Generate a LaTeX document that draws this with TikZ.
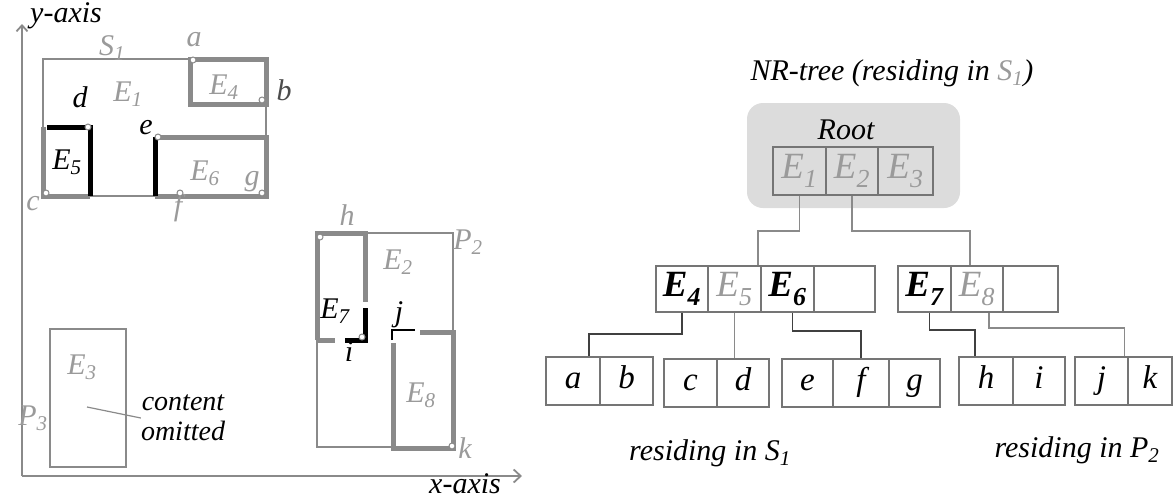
\documentclass[tikz,border=0pt]{standalone}
\usepackage{fontspec}
\setmainfont{Liberation Serif}
\usetikzlibrary{arrows.meta,calc}
\definecolor{lg}{HTML}{8A8A8A}
\definecolor{tg}{HTML}{9A9A9A}
\definecolor{rootfill}{HTML}{DCDCDC}
\begin{document}
\begin{tikzpicture}[x=1pt,y=-1pt,
  every node/.style={font=\itshape\fontsize{30}{32}\selectfont, inner sep=0pt},
  thin/.style={draw=lg, line width=1.6},
  thickg/.style={draw=lg, line width=5},
  thickb/.style={draw=black, line width=5},
  dot/.style={circle, draw=lg, fill=white, line width=1, minimum size=6, inner sep=0pt},
  gtext/.style={text=tg},
  btext/.style={text=black},
  cell/.style={draw=lg!85!black, line width=1.8, minimum height=48, inner sep=0pt},
  mcell/.style={cell, minimum height=46},
  tE/.style={font=\itshape\fontsize{37}{39}\selectfont},
  tEb/.style={font=\bfseries\itshape\fontsize{37}{39}\selectfont},
  leaf/.style={font=\itshape\fontsize{33}{35}\selectfont, text height=23pt, text depth=8pt},
  conn/.style={draw=lg, line width=1.8},
  connd/.style={draw=black!75, line width=1.8},
  axis/.style={draw=lg, line width=1.8}
]
\useasboundingbox (0,0) rectangle (1174,498);

% ---------- axes ----------
\coordinate (o) at (22,476);
\coordinate (ytop) at (22,24);
\coordinate (xend) at (522,476);
\draw[axis, -{Straight Barb[length=6pt,width=11pt]}] (o) -- (ytop);
\draw[axis, -{Straight Barb[length=7pt,width=13pt]}] (o) -- (xend);
\node[btext, anchor=west] (ylab) at (30,16) {y-axis};
\node[btext] (xlab) at (465,484) {x-axis};

% ---------- S1 ----------
\draw[thin] (43,59) rectangle (266,196);
\node[gtext] (lS1) at (112,48) {S\textsubscript{1}};
\node[gtext] (lE1) at (128,94) {E\textsubscript{1}};
\node[btext] (ld0) at (80,97) {d};
% E4
\draw[thickg] (190,59) rectangle (266,104);
\node[gtext] (lE4) at (224,87) {E\textsubscript{4}};
\node[gtext] (la0) at (194,40) {a};
\node[text=black!70] (lb0) at (284,90) {b};
% E5
\draw[thickg] (43,127) -- (43,196) -- (90,196);
\draw[thickb] (47,127) -- (90,127) -- (90,196);
\node[btext] (lE5) at (67,162) {E\textsubscript{5}};
\node[gtext] (lc0) at (33,204) {c};
% E6
\draw[thickg] (155,137) -- (266,137) -- (266,196) -- (155,196);
\draw[thickb] (155,137) -- (155,196);
\node[gtext] (lE6) at (205,173) {E\textsubscript{6}};
\node[btext] (le0) at (146,128) {e};
\node[gtext] (lg0) at (252,182) {g};
\node[gtext] (lf0) at (178,208) {f};
% dots
\node[dot] (pa) at (193,60) {};
\node[dot] (pb) at (262,100) {};
\node[dot] (pd) at (88,127) {};
\node[dot] (pc) at (46,193) {};
\node[dot] (pe) at (158,137) {};
\node[dot] (pf) at (180,193) {};
\node[dot] (pg) at (262,193) {};

% ---------- P2 ----------
\draw[thin] (317,233) rectangle (453,447);
\node[gtext] (lP2) at (468,242) {P\textsubscript{2}};
\node[gtext] (lE2) at (398,262) {E\textsubscript{2}};
% E7
\draw[thickg] (317,340) -- (317,233) -- (365,233) -- (365,302);
\draw[thickg] (317,340) -- (335,340);
\draw[thickb] (365,308) -- (365,340) -- (345,340);
\node[btext] (lE7) at (335,311) {E\textsubscript{7}};
\node[gtext] (lh0) at (347,215) {h};
\node[btext] (li0) at (349,352) {i};
% E8
\draw[thickg] (420,332) -- (453,332) -- (453,448) -- (393,448) -- (393,343);
\draw[draw=black, line width=1.4] (392,340) -- (392,330) -- (415,330);
\node[btext] (lj0) at (399,315) {j};
\node[gtext] (lE8) at (421,395) {E\textsubscript{8}};
\node[gtext] (lk0) at (465,448) {k};
\node[dot] (ph) at (320,237) {};
\node[dot] (pi) at (362,337) {};
\node[dot] (pk) at (452,446) {};

% ---------- P3 ----------
\draw[thin] (50,329) rectangle (126,467);
\node[gtext] (lE3) at (82,367) {E\textsubscript{3}};
\node[gtext] (lP3) at (33,418) {P\textsubscript{3}};
\coordinate (om) at (87,407);
\node[btext, align=center, font=\itshape\fontsize{28}{30}\selectfont] (omit) at (183,418) {content\\omitted};
\draw[thin, line width=1.2] (om) -- (omit.west);

% ---------- tree ----------
\node[btext] (title) at (892,73) {NR-tree (residing in \textcolor{tg}{S\textsubscript{1}})};
\fill[rootfill, rounded corners=16] (747,103) rectangle (960,208);
\node[btext] (rootlab) at (846,130) {Root};
\node[cell, minimum width=53, tE, gtext] (r1) at (799.5,171) {E\textsubscript{1}};
\node[cell, minimum width=52, tE, gtext] (r2) at (852,171) {E\textsubscript{2}};
\node[cell, minimum width=55, tE, gtext] (r3) at (905.5,171) {E\textsubscript{3}};

\node[mcell, minimum width=52, tEb, btext] (m1) at (682,289) {E\textsubscript{4}};
\node[mcell, minimum width=53, tE, gtext] (m2) at (734.5,289) {E\textsubscript{5}};
\node[mcell, minimum width=53, tEb, btext] (m3) at (787.5,289) {E\textsubscript{6}};
\node[mcell, minimum width=61] (m4) at (844.5,289) {};
\node[mcell, minimum width=53, tEb, btext] (n1) at (924.5,289) {E\textsubscript{7}};
\node[mcell, minimum width=52, tE, gtext] (n2) at (977,289) {E\textsubscript{8}};
\node[mcell, minimum width=55] (n3) at (1030.5,289) {};

\node[cell, minimum width=54, leaf] (la) at (573,381) {a};
\node[cell, minimum width=53, leaf] (lb) at (626.5,381) {b};
\node[cell, minimum width=53, leaf] (lc) at (690.5,383) {c};
\node[cell, minimum width=52, leaf] (ld) at (743,383) {d};
\node[cell, minimum width=51, leaf] (le) at (807.5,383) {e};
\node[cell, minimum width=56, leaf] (lf) at (861,383) {f};
\node[cell, minimum width=51, leaf] (lg) at (914.5,383) {g};
\node[cell, minimum width=54, leaf] (lh) at (986,381) {h};
\node[cell, minimum width=52, leaf] (li) at (1039,381) {i};
\node[cell, minimum width=53, leaf] (lj) at (1101.5,381) {j};
\node[cell, minimum width=44, leaf] (lk) at (1150,381) {k};

\draw[conn] (r1.south) -- ++(0,35) -| ([xshift=-4pt]m2.north east);
\draw[conn] (r2.south) -- ++(0,35) -| ([xshift=-7pt]n2.north);
\draw[connd] (m1.south) -- ++(0,21) -| ([xshift=16pt]la.north);
\draw[conn] (m2.south) -- (m2.south |- ld.north);
\draw[connd] ([xshift=5pt]m3.south) -- ++(0,18) -| (lf.north);
\draw[connd] ([xshift=5pt]n1.south) -- ++(0,17) -| ([xshift=-11pt]lh.north);
\draw[conn] ([xshift=12pt]n2.south) -- ++(0,15) -| ([xshift=23pt]lj.north);

\node[btext] (resS) at (710,453) {residing in S\textsubscript{1}};
\node[btext] (resP) at (1077,450) {residing in P\textsubscript{2}};
\end{tikzpicture}
\end{document}
